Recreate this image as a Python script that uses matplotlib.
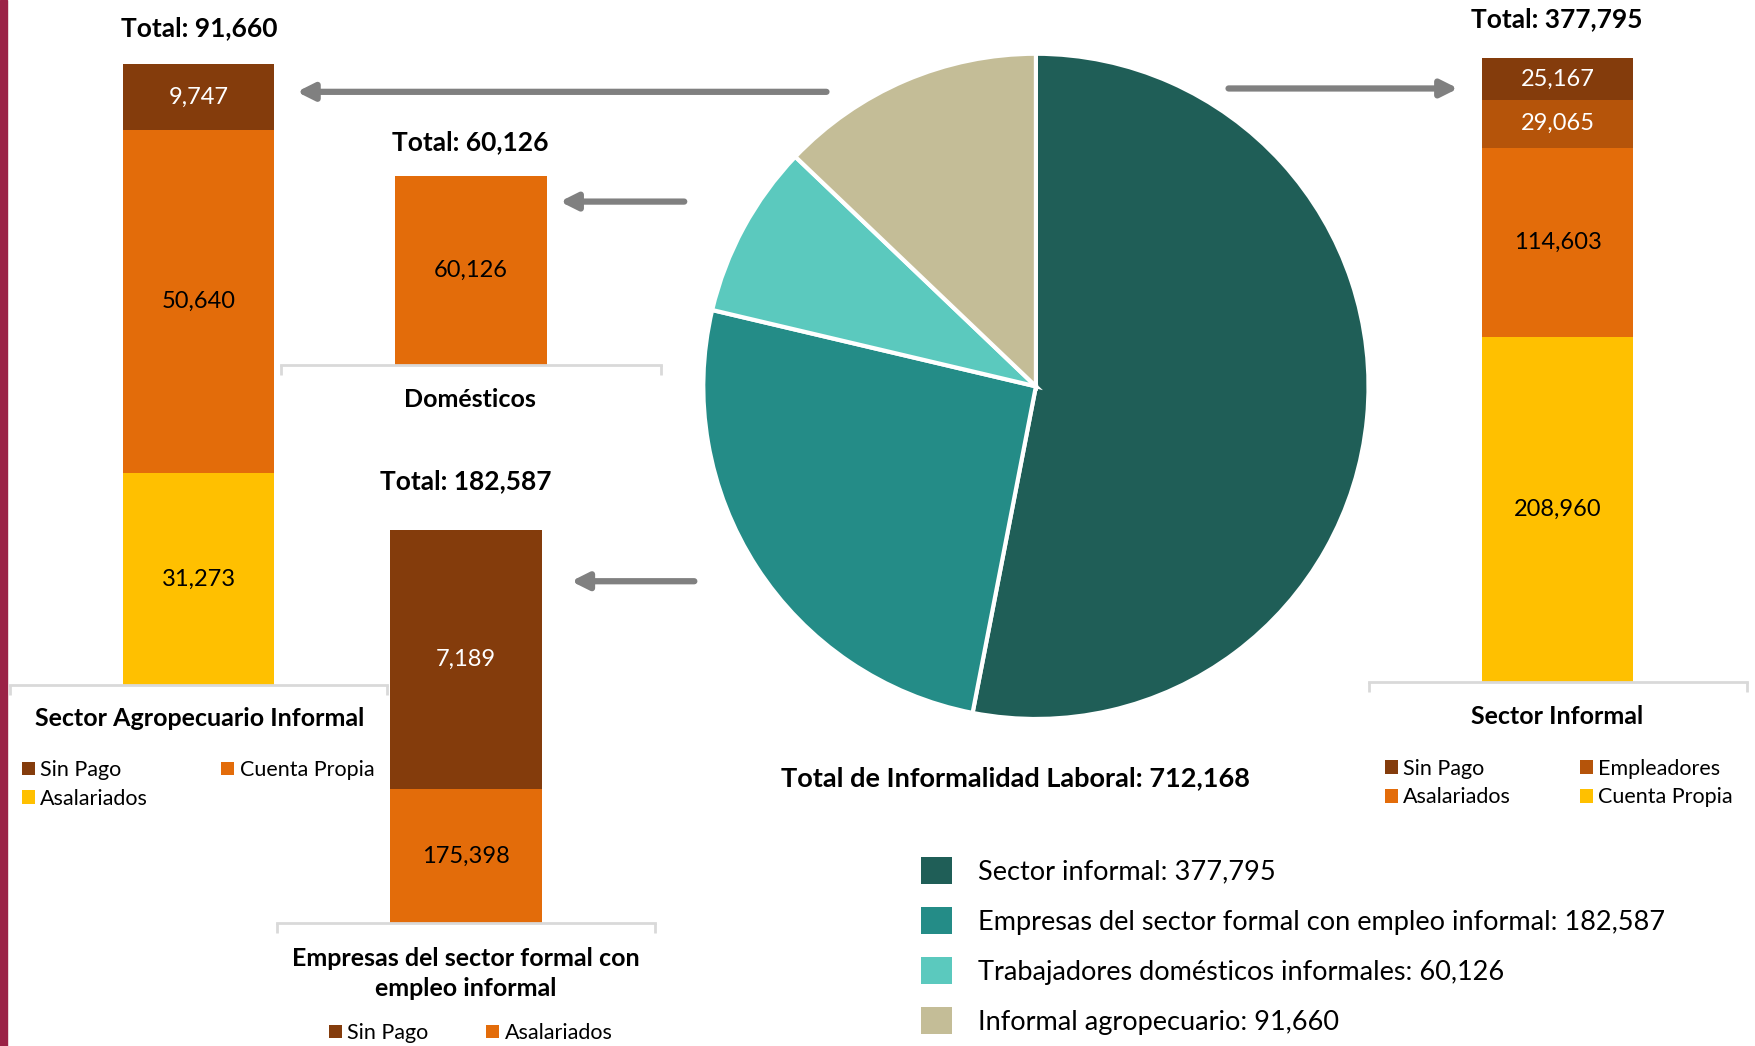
import matplotlib.pyplot as plt
from matplotlib.patches import Patch, Rectangle

plt.rcParams['font.family'] = ['Lato', 'DejaVu Sans']

# datos (orden de apilado: de abajo hacia arriba)
agro_series = ['Asalariados', 'Cuenta Propia', 'Sin Pago']
agro_vals = [31273, 50640, 9747]
dom_series = ['Domésticos']
dom_vals = [60126]
emp_series = ['Asalariados', 'Sin Pago']
emp_vals = [175398, 7189]
inf_series = ['Cuenta Propia', 'Asalariados', 'Empleadores', 'Sin Pago']
inf_vals = [208960, 114603, 29065, 25167]

pie_labels = ['Sector informal', 'Empresas del sector formal con empleo informal',
              'Trabajadores domésticos informales', 'Informal agropecuario']
pie_vals = [377795, 182587, 60126, 91660]
total_informalidad = 712168

# colores
MARRON = '#843C0C'
NARANJA = '#E36C0A'
NARANJA_OSC = '#B5540A'
AMARILLO = '#FFC000'
pie_colors = ['#1F5E57', '#248C87', '#5BC9BE', '#C4BD97']
GRIS_EJE = '#D9D9D9'
GRIS_FLECHA = '#808080'

W, H = 1568.0, 934.0  # coordenadas de referencia


def fx(x):
    return x / W


def fy(y):
    return 1 - y / H


def caja(x0, y0, x1, y1):
    return [fx(x0), fy(y1), fx(x1) - fx(x0), fy(y0) - fy(y1)]


fig = plt.figure(figsize=(17.56, 10.46), dpi=100)

# barra lateral
fig.patches.append(Rectangle((0, 0), fx(6), 1, transform=fig.transFigure,
                             color='#9B2247', zorder=0))


def barra_apilada(rect, vals, colores, blancos, ymin=0):
    ax = fig.add_axes(rect)
    base = 0
    for v, c, b in zip(vals, colores, blancos):
        ax.bar(0, v, bottom=base, width=0.4, color=c)
        centro = (max(base, ymin) + base + v) / 2
        ax.text(0, centro, f'{v:,}', ha='center', va='center', fontsize=17,
                color='white' if b else 'black')
        base += v
    ax.set_xlim(-0.5, 0.5)
    ax.set_ylim(ymin, base)
    for s in ['top', 'left', 'right']:
        ax.spines[s].set_visible(False)
    ax.spines['bottom'].set_color(GRIS_EJE)
    ax.spines['bottom'].set_linewidth(2)
    ax.set_xticks([-0.5, 0.5])
    ax.set_xticklabels([])
    ax.tick_params(axis='x', length=7, width=2, color=GRIS_EJE)
    ax.set_yticks([])
    ax.set_facecolor('none')
    return ax, base


def leyenda(ax, nombres, colores, x, y, ncol=2, colsp=3.0):
    handles = [Patch(facecolor=c, label=n) for n, c in zip(nombres, colores)]
    ax.legend(handles=handles, ncol=ncol, loc='upper left',
              bbox_to_anchor=(fx(x), fy(y)), bbox_transform=fig.transFigure,
              frameon=False, fontsize=15.5, handlelength=0.6, handleheight=0.6,
              handletextpad=0.25, columnspacing=colsp, labelspacing=0.4,
              borderpad=0)


# Sector agropecuario informal
ax1, tot1 = barra_apilada(caja(9, 57, 346, 612), agro_vals,
                          [AMARILLO, NARANJA, MARRON], [False, False, True])
fig.text(fx(178), fy(25), f'Total: {tot1:,}', ha='center', va='center',
         fontsize=19, fontweight='bold')
fig.text(fx(178), fy(642), 'Sector Agropecuario Informal', ha='center',
         va='center', fontsize=18, fontweight='bold')
leyenda(ax1, ['Sin Pago', 'Asalariados', 'Cuenta Propia'],
        [MARRON, AMARILLO, NARANJA], 10, 669, colsp=3.4)

# Domésticos
ax2, tot2 = barra_apilada(caja(251, 157, 590, 326), dom_vals, [NARANJA], [False])
fig.text(fx(420), fy(127), f'Total: {tot2:,}', ha='center', va='center',
         fontsize=19, fontweight='bold')
fig.text(fx(420), fy(357), 'Domésticos', ha='center', va='center',
         fontsize=18, fontweight='bold')

# Empresas del sector formal con empleo informal (eje truncado)
ax3, tot3 = barra_apilada(caja(247, 473, 585, 824), emp_vals,
                          [NARANJA, MARRON], [False, True], ymin=171700)
fig.text(fx(416), fy(869), 'Empresas del sector formal con\nempleo informal',
         ha='center', va='center', fontsize=18, fontweight='bold',
         linespacing=1.35)
fig.text(fx(416), fy(430), f'Total: {tot3:,}', ha='center', va='center',
         fontsize=19, fontweight='bold')
leyenda(ax3, ['Sin Pago', 'Asalariados'], [MARRON, NARANJA], 284, 904,
        colsp=2.7)

# Sector informal
ax4, tot4 = barra_apilada(caja(1222, 52, 1560, 609), inf_vals,
                          [AMARILLO, NARANJA, NARANJA_OSC, MARRON],
                          [False, False, True, True])
fig.text(fx(1390), fy(17), f'Total: {tot4:,}', ha='center', va='center',
         fontsize=19, fontweight='bold')
fig.text(fx(1390), fy(640), 'Sector Informal', ha='center', va='center',
         fontsize=18, fontweight='bold')
leyenda(ax4, ['Sin Pago', 'Asalariados', 'Empleadores', 'Cuenta Propia'],
        [MARRON, NARANJA, NARANJA_OSC, AMARILLO], 1227, 668, colsp=3.2)

# Pastel
r = 297
axp = fig.add_axes(caja(925 - r, 345 - r, 925 + r, 345 + r))
axp.pie(pie_vals, colors=pie_colors, startangle=90, counterclock=False,
        radius=1, wedgeprops=dict(edgecolor='white', linewidth=3))
axp.set_xlim(-1.0, 1.0)
axp.set_ylim(-1.0, 1.0)
axp.set_aspect('auto')
axp.axis('off')

fig.text(fx(907), fy(695), f'Total de Informalidad Laboral: {total_informalidad:,}',
         ha='center', va='center', fontsize=19.5, fontweight='bold')

handles = [Patch(facecolor=c, label=f'{n}: {v:,}')
           for n, v, c in zip(pie_labels, pie_vals, pie_colors)]
fig.legend(handles=handles, loc='upper left', bbox_to_anchor=(fx(810), fy(753)),
           frameon=False, fontsize=19.5, handlelength=1.15, handleheight=1.15,
           handletextpad=0.95, labelspacing=0.83, borderpad=0)

# flechas
flechas = [((738, 82), (265, 82)), ((611, 180), (500, 180)),
           ((620, 519), (510, 519)), ((1097, 79), (1302, 79))]
for cola, punta in flechas:
    fig.add_artist(plt.Annotation('', xy=(fx(punta[0]), fy(punta[1])),
                                  xytext=(fx(cola[0]), fy(cola[1])),
                                  xycoords='figure fraction',
                                  arrowprops=dict(arrowstyle='-|>,head_length=1.0,head_width=0.5',
                                                  lw=4.5, color=GRIS_FLECHA,
                                                  shrinkA=0, shrinkB=0)))

fig.savefig('out.png', dpi=100)
